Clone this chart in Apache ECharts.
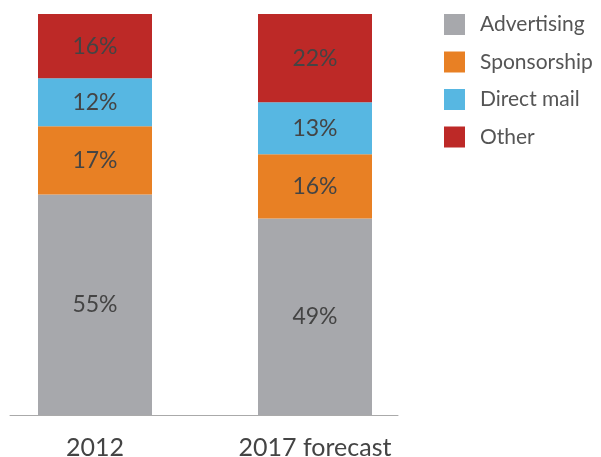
<!DOCTYPE html>
<html>
<head>
<meta charset="utf-8">
<script src="https://cdn.jsdelivr.net/npm/echarts@6/dist/echarts.min.js"></script>
<style>
  html, body { margin: 0; padding: 0; background: #fff; }
  #chart { width: 601px; height: 457px; }
</style>
</head>
<body>
<div id="chart"></div>
<script>
const categories = ['2012', '2017 forecast']
const advertising = [55, 49]
const sponsorship = [17, 16]
const directMail = [12, 13]
const other = [16, 22]

const colors = {
  Advertising: '#a7a8ac',
  Sponsorship: '#e88024',
  'Direct mail': '#57b7e2',
  Other: '#bd2927'
}

const chart = echarts.init(document.getElementById('chart'))

const makeSeries = (name, data) => ({
  name: name,
  type: 'bar',
  stack: 'total',
  barWidth: 114,
  data: data,
  itemStyle: { color: colors[name] },
  label: {
    show: true,
    position: 'inside',
    formatter: '{c}%',
    color: '#444',
    fontSize: 23,
    fontFamily: 'Lato'
  },
  emphasis: { disabled: true }
})

chart.setOption({
  animation: false,
  legend: {
    orient: 'vertical',
    left: 444,
    top: 14,
    padding: 0,
    itemWidth: 21,
    itemHeight: 21,
    itemGap: 16.5,
    icon: 'rect',
    textStyle: {
      fontSize: 21,
      color: '#555',
      fontFamily: 'Lato',
      padding: [0, 0, 0, 10]
    },
    data: ['Advertising', 'Sponsorship', 'Direct mail', 'Other']
  },
  grid: [
    // bars sit on the category points, so the grid spans bar centre to bar centre
    { left: 95, right: 286, top: 14, bottom: 42, outerBoundsMode: 'none' },
    { left: 10, right: 203, top: 14, bottom: 42, outerBoundsMode: 'none' }
  ],
  xAxis: [
    {
      type: 'category',
      data: categories,
      gridIndex: 0,
      boundaryGap: false,
      axisLine: { show: false },
      axisTick: { show: false },
      axisLabel: {
        margin: 33,
        verticalAlign: 'middle',
        fontSize: 25,
        color: '#444',
        fontFamily: 'Lato'
      }
    },
    {
      type: 'category',
      data: categories,
      gridIndex: 1,
      axisLine: { show: true, lineStyle: { color: '#aaaaaa', width: 1 } },
      axisTick: { show: false },
      axisLabel: { show: false }
    }
  ],
  yAxis: [
    { type: 'value', min: 0, max: 100, gridIndex: 0, show: false },
    { type: 'value', min: 0, max: 100, gridIndex: 1, show: false }
  ],
  series: [
    makeSeries('Advertising', advertising),
    makeSeries('Sponsorship', sponsorship),
    makeSeries('Direct mail', directMail),
    makeSeries('Other', other)
  ]
})
</script>
</body>
</html>
